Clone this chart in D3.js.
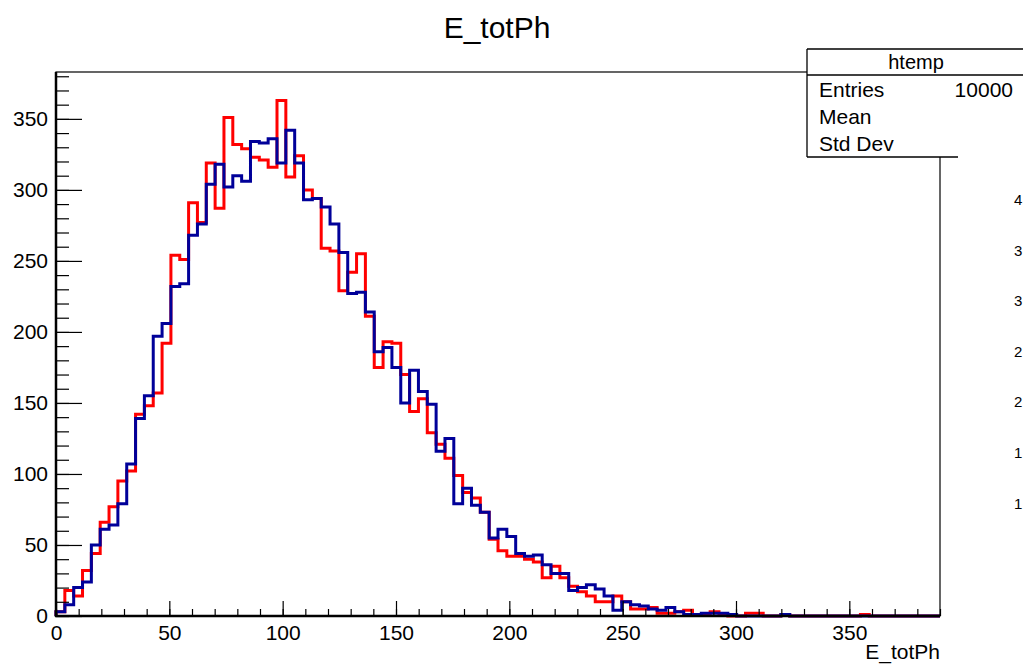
<!DOCTYPE html>
<html>
<head>
<meta charset="utf-8">
<script src="https://cdn.jsdelivr.net/npm/d3@7"></script>
<style>
  body { margin: 0; background: #fff; }
  svg { display: block; font-family: "Liberation Sans", Arial, Helvetica, sans-serif; }
</style>
</head>
<body>
<div class="svgContainer"></div>
<script>
// bin counts, 100 bins over [0, 390]
const redCounts = [
    3, 18, 14, 32, 44, 66, 77, 95, 102, 142,
    148, 157, 192, 254, 251, 291, 277, 319, 287, 351,
    332, 329, 323, 321, 316, 363, 309, 324, 300, 294,
    259, 257, 229, 242, 255, 211, 175, 193, 192, 170,
    144, 153, 129, 121, 111, 99, 87, 83, 73, 54,
    46, 42, 42, 40, 38, 27, 35, 27, 21, 17,
    14, 10, 10, 14, 10, 5, 5, 6, 2, 2,
    3, 4, 1, 1, 3, 1, 0, 0, 2, 2,
    0, 0, 1, 0, 0, 0, 0, 0, 0, 0,
    0, 1, 0, 0, 0, 0, 0, 0, 0, 0
];
const blueCounts = [
    3, 8, 20, 24, 50, 61, 64, 79, 107, 139,
    155, 197, 206, 232, 234, 268, 276, 304, 318, 302,
    310, 306, 334, 333, 336, 319, 342, 319, 293, 294,
    288, 276, 256, 227, 228, 214, 186, 189, 175, 150,
    173, 158, 149, 116, 125, 79, 90, 78, 73, 55,
    61, 56, 44, 42, 43, 36, 30, 30, 18, 20,
    22, 19, 14, 4, 10, 8, 7, 5, 4, 6,
    3, 1, 1, 2, 2, 2, 1, 0, 0, 0,
    0, 0, 1, 0, 0, 0, 0, 0, 0, 0,
    0, 0, 0, 0, 0, 0, 0, 0, 0, 0
];
const xMin = 0, xMax = 390;
const yMax = 383;
const xMajorTicks = [0, 50, 100, 150, 200, 250, 300, 350];
const yMajorTicks = [0, 50, 100, 150, 200, 250, 300, 350];
const statsRows = [["Entries", "10000"], ["Mean", ""], ["Std Dev", ""]];
const clippedLabels = ["4", "3", "3", "2", "2", "1", "1"];

const width = 1023, height = 664;
const frameLeft = 56, frameRight = 940, frameTop = 72, frameBottom = 616;

let svg = d3.select('.svgContainer')
    .append('svg')
    .attr('width', width)
    .attr('height', height)
    .attr('viewBox', `0 0 ${width} ${height}`);

let x = d3.scaleLinear().domain([xMin, xMax]).range([frameLeft, frameRight]);
let y = d3.scaleLinear().domain([0, yMax]).range([frameBottom, frameTop]);

// histogram outlines
function steps(counts) {
    const w = (xMax - xMin) / counts.length;
    let pts = [[xMin, 0]];
    counts.forEach((c, i) => pts.push([xMin + i * w, c]));
    pts.push([xMax, counts[counts.length - 1]]);
    pts.push([xMax, 0]);
    return pts;
}
const line = d3.line()
    .x(d => x(d[0]))
    .y(d => y(d[1]))
    .curve(d3.curveStepAfter);

svg.append('path')
    .attr('d', line(steps(redCounts)))
    .attr('fill', 'none')
    .attr('stroke', '#ff0000')
    .attr('stroke-width', 3);

svg.append('path')
    .attr('d', line(steps(blueCounts)))
    .attr('fill', 'none')
    .attr('stroke', '#000099')
    .attr('stroke-width', 3);

// axes, ticks inward
const minorX = d3.range(0, xMax + 1, 10);
const minorY = d3.range(0, yMax, 10);

svg.append('g')
    .attr('transform', `translate(0,${frameBottom})`)
    .call(d3.axisBottom(x).tickValues(minorX).tickSize(-7).tickFormat(''))
    .call(g => g.select('.domain').remove());
svg.append('g')
    .attr('transform', `translate(0,${frameBottom})`)
    .call(d3.axisBottom(x).tickValues(xMajorTicks).tickSize(-15).tickPadding(9))
    .call(g => g.select('.domain').remove())
    .call(g => g.selectAll('text').attr('font-size', 21).attr('font-family', 'Liberation Sans, Arial, sans-serif').attr('fill', '#000'));

svg.append('g')
    .attr('transform', `translate(${frameLeft},0)`)
    .call(d3.axisLeft(y).tickValues(minorY).tickSize(-13).tickFormat(''))
    .call(g => g.select('.domain').remove());
svg.append('g')
    .attr('transform', `translate(${frameLeft},0)`)
    .call(d3.axisLeft(y).tickValues(yMajorTicks).tickSize(-26).tickPadding(8))
    .call(g => g.select('.domain').remove())
    .call(g => g.selectAll('text').attr('font-size', 21).attr('font-family', 'Liberation Sans, Arial, sans-serif').attr('fill', '#000'));

svg.selectAll('.tick line').attr('stroke', '#000').attr('stroke-width', 1.2);

// frame
svg.append('rect')
    .attr('x', frameLeft).attr('y', frameTop)
    .attr('width', frameRight - frameLeft).attr('height', frameBottom - frameTop)
    .attr('fill', 'none')
    .attr('stroke', '#000')
    .attr('stroke-width', 1.2);
svg.append('line')
    .attr('x1', frameLeft).attr('x2', frameLeft)
    .attr('y1', frameTop).attr('y2', frameBottom + 1)
    .attr('stroke', '#000').attr('stroke-width', 2.5);
svg.append('line')
    .attr('x1', frameLeft - 1).attr('x2', frameRight)
    .attr('y1', frameBottom).attr('y2', frameBottom)
    .attr('stroke', '#000').attr('stroke-width', 2.5);

// titles
svg.append('text')
    .attr('x', 497).attr('y', 38)
    .attr('text-anchor', 'middle')
    .attr('font-size', 30)
    .text('E_totPh');
svg.append('text')
    .attr('x', frameRight).attr('y', 659)
    .attr('text-anchor', 'end')
    .attr('font-size', 21)
    .text('E_totPh');

// stats box (runs off the right edge)
const sb = svg.append('g');
sb.append('rect')
    .attr('x', 807).attr('y', 49)
    .attr('width', 260).attr('height', 108)
    .attr('fill', '#fff');
sb.append('line').attr('x1', 807).attr('x2', 1023).attr('y1', 49).attr('y2', 49).attr('stroke', '#000').attr('stroke-width', 1.3);
sb.append('line').attr('x1', 807).attr('x2', 1023).attr('y1', 75).attr('y2', 75).attr('stroke', '#000').attr('stroke-width', 1.3);
sb.append('line').attr('x1', 807).attr('x2', 807).attr('y1', 49).attr('y2', 157).attr('stroke', '#000').attr('stroke-width', 1.3);
sb.append('line').attr('x1', 807).attr('x2', 958).attr('y1', 157).attr('y2', 157).attr('stroke', '#000').attr('stroke-width', 1.3);
sb.append('text')
    .attr('x', 916).attr('y', 69)
    .attr('text-anchor', 'middle')
    .attr('font-size', 20)
    .text('htemp');
statsRows.forEach((r, i) => {
    sb.append('text')
        .attr('x', 819).attr('y', 97 + i * 27)
        .attr('font-size', 21)
        .text(r[0]);
    sb.append('text')
        .attr('x', 1013).attr('y', 97 + i * 27)
        .attr('text-anchor', 'end')
        .attr('font-size', 21)
        .text(r[1]);
});

// partly visible labels at the right edge
clippedLabels.forEach((t, i) => {
    svg.append('text')
        .attr('x', 1014).attr('y', 205 + i * 50.6)
        .attr('font-size', 15)
        .text(t);
});
</script>
</body>
</html>
